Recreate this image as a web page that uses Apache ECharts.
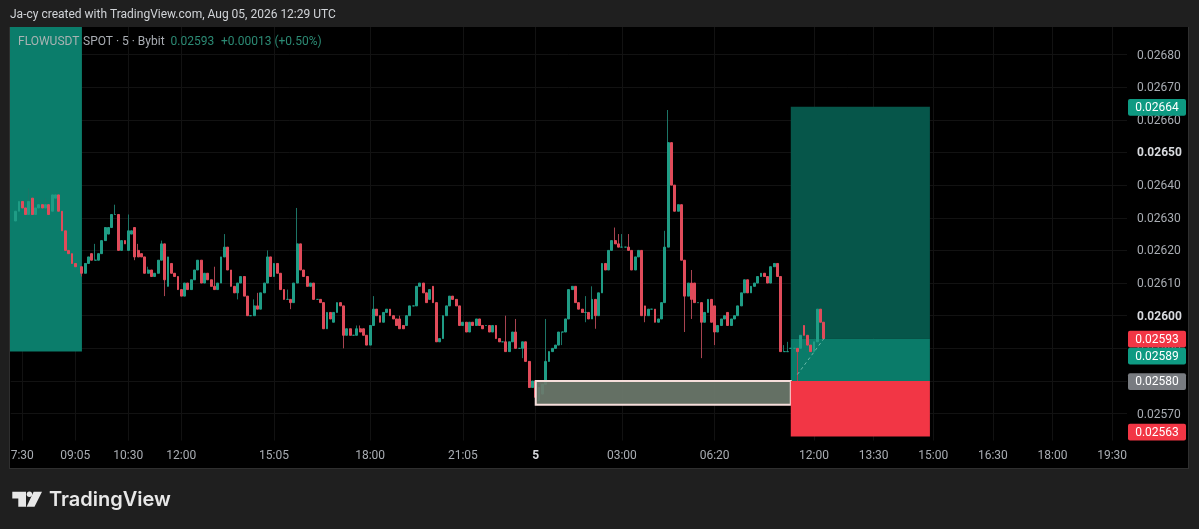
<!DOCTYPE html>
<html><head><meta charset="utf-8">
<style>html,body{margin:0;padding:0;background:#1f1f1f}#c{width:1199px;height:529px}</style>
<script src="https://cdn.jsdelivr.net/npm/echarts@6/dist/echarts.min.js"></script>
</head><body><div id="c"></div>
<script>
const opens=[null,
0.02629,0.02632,0.02635,0.02633,0.02631,0.02636,0.02631,0.02633,0.02634,0.02633,
0.02634,0.02632,0.02636,0.02637,0.02632,0.02626,0.02620,0.02619,0.02616,null,0.02615,
0.02613,0.02616,0.02619,0.02617,0.02617,0.02619,0.02623,0.02625,0.02627,0.02631,
0.02631,0.02620,0.02623,0.02620,0.02625,0.02627,0.02620,0.02619,0.02618,0.02613,
0.02614,0.02612,0.02613,0.02617,0.02622,0.02609,0.02616,0.02613,0.02612,0.02608,
0.02606,0.02610,0.02608,0.02611,0.02614,0.02617,0.02610,0.02613,0.02611,0.02609,
0.02608,0.02610,0.02618,0.02621,0.02614,0.02609,0.02607,0.02610,0.02612,0.02606,
0.02600,0.02600,0.02603,0.02602,0.02607,0.02610,0.02618,0.02612,0.02616,0.02613,
0.02608,0.02605,0.02605,0.02604,0.02610,0.02622,0.02614,0.02612,0.02609,0.02610,
0.02605,0.02605,0.02604,0.02596,0.02601,0.02598,0.02601,0.02604,0.02603,0.02594,
0.02596,0.02594,0.02594,0.02596,0.02596,0.02594,0.02591,0.02597,0.02602,0.02600,
0.02598,0.02601,0.02602,0.02600,0.02599,0.02599,0.02597,0.02597,0.02600,0.02603,
0.02603,0.02609,0.02610,0.02607,0.02605,0.02609,0.02604,0.02592,0.02593,0.02600,
0.02603,0.02606,0.02605,0.02603,0.02597,0.02598,0.02595,0.02598,0.02597,0.02599,
0.02597,0.02597,0.02597,0.02595,0.02597,0.02593,0.02592,0.02592,0.02589,0.02592,
0.02595,0.02590,0.02590,0.02592,0.02586,0.02578,0.02580,0.02574,0.02576,0.02579,
0.02586,0.02589,0.02590,0.02591,0.02595,0.02595,0.02599,0.02608,0.02609,0.02604,
0.02602,0.02601,0.02601,0.02599,0.02605,0.02600,0.02607,0.02616,0.02614,0.02620,
0.02623,0.02622,0.02621,0.02621,0.02621,0.02620,0.02614,0.02618,0.02620,0.02603,
0.02600,0.02602,0.02602,0.02598,0.02599,0.02604,0.02621,0.02653,0.02640,0.02632,
0.02634,0.02617,0.02606,0.02610,0.02610,0.02604,0.02604,0.02598,0.02601,0.02605,
0.02603,0.02595,0.02597,0.02599,0.02601,0.02597,0.02599,0.02600,0.02603,0.02607,
0.02611,0.02607,0.02609,0.02610,0.02612,0.02613,0.02612,0.02610,0.02615,0.02616,
0.02612,0.02589,0.02589,0.02590,0.02590,0.02590,0.02590,0.02597,0.02594,0.02591,
0.02589,0.02592,0.02602,0.02598];
const closes=[null,
0.02632,0.02635,0.02633,0.02631,0.02635,0.02631,0.02633,0.02634,0.02633,0.02634,
0.02631,0.02637,0.02637,0.02632,0.02626,0.02620,0.02619,0.02616,0.02615,null,0.02613,
0.02616,0.02618,0.02617,0.02617,0.02619,0.02623,0.02627,0.02627,0.02631,0.02631,
0.02620,0.02623,0.02622,0.02626,0.02626,0.02618,0.02618,0.02618,0.02613,0.02614,
0.02612,0.02613,0.02617,0.02622,0.02611,0.02618,0.02613,0.02612,0.02608,0.02606,
0.02610,0.02608,0.02611,0.02614,0.02617,0.02610,0.02613,0.02611,0.02609,0.02608,
0.02610,0.02618,0.02621,0.02614,0.02609,0.02607,0.02610,0.02612,0.02606,0.02600,
0.02600,0.02603,0.02602,0.02607,0.02610,0.02618,0.02612,0.02616,0.02613,0.02608,
0.02605,0.02605,0.02604,0.02610,0.02622,0.02614,0.02612,0.02609,0.02610,0.02605,
0.02605,0.02604,0.02596,0.02601,0.02599,0.02601,0.02604,0.02603,0.02594,0.02596,
0.02594,0.02594,0.02596,0.02595,0.02594,0.02591,0.02597,0.02602,0.02600,0.02598,
0.02601,0.02602,0.02600,0.02599,0.02597,0.02596,0.02596,0.02600,0.02603,0.02603,
0.02609,0.02610,0.02607,0.02604,0.02608,0.02604,0.02592,0.02593,0.02600,0.02603,
0.02606,0.02605,0.02603,0.02597,0.02598,0.02595,0.02598,0.02597,0.02599,0.02597,
0.02596,0.02597,0.02595,0.02597,0.02593,0.02592,0.02592,0.02589,0.02592,0.02595,
0.02590,0.02590,0.02592,0.02586,0.02578,0.02580,0.02575,0.02578,0.02579,0.02586,
0.02589,0.02590,0.02591,0.02595,0.02595,0.02599,0.02608,0.02609,0.02604,0.02602,
0.02601,0.02601,0.02599,0.02605,0.02600,0.02607,0.02616,0.02614,0.02620,0.02623,
0.02622,0.02621,0.02621,0.02621,0.02620,0.02614,0.02618,0.02620,0.02600,0.02600,
0.02602,0.02602,0.02598,0.02599,0.02604,0.02621,0.02653,0.02640,0.02632,0.02634,
0.02617,0.02606,0.02610,0.02605,0.02604,0.02604,0.02598,0.02601,0.02605,0.02598,
0.02595,0.02597,0.02599,0.02600,0.02597,0.02599,0.02600,0.02603,0.02607,0.02611,
0.02607,0.02609,0.02610,0.02612,0.02613,0.02612,0.02610,0.02615,0.02616,0.02612,
0.02589,0.02589,0.02589,0.02590,0.02590,0.02589,0.02594,0.02594,0.02591,0.02589,
0.02592,0.02602,0.02598,0.02593];
const lows=[null,
0.02629,0.02632,0.02633,0.02631,0.02631,0.02631,0.02631,0.02633,0.02633,0.02633,
0.02631,0.02632,0.02636,0.02632,0.02626,0.02620,0.02619,0.02616,0.02615,null,0.02612,
0.02613,0.02616,0.02617,0.02617,0.02617,0.02619,0.02623,0.02625,0.02627,0.02631,
0.02620,0.02620,0.02622,0.02620,0.02625,0.02617,0.02618,0.02618,0.02613,0.02613,
0.02612,0.02612,0.02613,0.02617,0.02606,0.02609,0.02613,0.02612,0.02608,0.02606,
0.02606,0.02608,0.02608,0.02611,0.02614,0.02610,0.02610,0.02611,0.02609,0.02608,
0.02608,0.02610,0.02618,0.02614,0.02609,0.02607,0.02605,0.02610,0.02606,0.02600,
0.02600,0.02600,0.02602,0.02602,0.02607,0.02610,0.02612,0.02612,0.02613,0.02608,
0.02605,0.02605,0.02602,0.02604,0.02610,0.02614,0.02612,0.02609,0.02609,0.02605,
0.02605,0.02604,0.02596,0.02596,0.02599,0.02598,0.02601,0.02603,0.02590,0.02594,
0.02594,0.02594,0.02594,0.02595,0.02594,0.02591,0.02591,0.02597,0.02600,0.02598,
0.02598,0.02601,0.02600,0.02599,0.02597,0.02596,0.02596,0.02597,0.02600,0.02603,
0.02603,0.02609,0.02607,0.02604,0.02605,0.02604,0.02592,0.02592,0.02593,0.02600,
0.02603,0.02605,0.02603,0.02597,0.02597,0.02595,0.02595,0.02597,0.02597,0.02597,
0.02596,0.02597,0.02595,0.02595,0.02593,0.02592,0.02592,0.02589,0.02589,0.02592,
0.02590,0.02590,0.02587,0.02586,0.02578,0.02578,0.02575,0.02574,0.02576,0.02579,
0.02586,0.02589,0.02590,0.02591,0.02591,0.02595,0.02599,0.02608,0.02604,0.02602,
0.02601,0.02598,0.02599,0.02599,0.02596,0.02600,0.02607,0.02614,0.02614,0.02620,
0.02622,0.02621,0.02621,0.02621,0.02620,0.02614,0.02614,0.02618,0.02600,0.02598,
0.02600,0.02602,0.02598,0.02598,0.02599,0.02604,0.02621,0.02640,0.02632,0.02632,
0.02617,0.02595,0.02606,0.02599,0.02604,0.02604,0.02587,0.02598,0.02601,0.02598,
0.02591,0.02595,0.02597,0.02599,0.02597,0.02597,0.02599,0.02600,0.02603,0.02607,
0.02607,0.02607,0.02609,0.02610,0.02612,0.02612,0.02610,0.02610,0.02615,0.02612,
0.02589,0.02589,0.02589,0.02590,0.02590,0.02580,0.02590,0.02594,0.02591,0.02589,
0.02589,0.02592,0.02598,0.02593];
const highs=[null,
0.02632,0.02635,0.02635,0.02633,0.02639,0.02636,0.02633,0.02634,0.02634,0.02636,
0.02634,0.02637,0.02637,0.02637,0.02632,0.02626,0.02620,0.02619,0.02616,null,0.02615,
0.02616,0.02618,0.02619,0.02622,0.02619,0.02623,0.02627,0.02627,0.02631,0.02634,
0.02631,0.02623,0.02623,0.02631,0.02626,0.02627,0.02622,0.02619,0.02618,0.02615,
0.02614,0.02613,0.02617,0.02623,0.02622,0.02618,0.02616,0.02613,0.02612,0.02608,
0.02610,0.02610,0.02611,0.02614,0.02617,0.02617,0.02613,0.02613,0.02611,0.02615,
0.02610,0.02618,0.02625,0.02621,0.02614,0.02609,0.02610,0.02612,0.02612,0.02606,
0.02600,0.02605,0.02607,0.02607,0.02610,0.02620,0.02618,0.02616,0.02616,0.02613,
0.02608,0.02608,0.02605,0.02610,0.02633,0.02622,0.02614,0.02612,0.02610,0.02610,
0.02605,0.02605,0.02604,0.02601,0.02601,0.02601,0.02604,0.02604,0.02603,0.02596,
0.02596,0.02594,0.02597,0.02597,0.02596,0.02594,0.02597,0.02606,0.02602,0.02600,
0.02601,0.02602,0.02602,0.02600,0.02599,0.02600,0.02597,0.02600,0.02603,0.02603,
0.02609,0.02610,0.02610,0.02607,0.02608,0.02609,0.02604,0.02593,0.02600,0.02603,
0.02606,0.02606,0.02605,0.02603,0.02598,0.02598,0.02598,0.02598,0.02599,0.02599,
0.02597,0.02597,0.02597,0.02597,0.02597,0.02593,0.02592,0.02600,0.02592,0.02595,
0.02599,0.02590,0.02592,0.02592,0.02586,0.02580,0.02580,0.02578,0.02579,0.02599,
0.02589,0.02590,0.02591,0.02595,0.02595,0.02599,0.02608,0.02609,0.02609,0.02604,
0.02602,0.02606,0.02601,0.02609,0.02605,0.02607,0.02616,0.02616,0.02620,0.02623,
0.02627,0.02625,0.02625,0.02621,0.02625,0.02620,0.02618,0.02620,0.02620,0.02603,
0.02602,0.02602,0.02602,0.02599,0.02604,0.02626,0.02663,0.02653,0.02640,0.02634,
0.02634,0.02617,0.02610,0.02614,0.02610,0.02604,0.02604,0.02601,0.02605,0.02605,
0.02603,0.02597,0.02599,0.02600,0.02601,0.02599,0.02600,0.02603,0.02607,0.02611,
0.02611,0.02609,0.02610,0.02612,0.02613,0.02613,0.02612,0.02615,0.02616,0.02616,
0.02612,0.02591,0.02592,0.02590,0.02590,0.02590,0.02594,0.02597,0.02594,0.02591,
0.02592,0.02602,0.02602,0.02598];

const barCount=337;
const timeLabels=['7:30','09:05','10:30','12:00','15:05','18:00','21:05','5','03:00','06:20','12:00','13:30','15:00','16:30','18:00','19:30'];
const timeLabelBars=[3,19,35,51,79,108,136,158,184,212,242,260,278,296,314,332];
const boldPriceLabels=['0.02650','0.02600'];

const pillPrices=[0.02664,0.02593,0.02589,0.02580,0.02563];
const pillColors=['#0e9a82','#f23645','#0e9a82','#787b80','#f23645'];
const lastPrice=0.02593;

// zones: start bar, end bar, top price, bottom price
const zonesBehind=[[-1,21,0.0269,0.02589],[235,277,0.02664,0.02593],[235,277,0.02593,0.02580]];
const zonesBehindColors=['#0b7d6b','#06564a','#0a7b69'];
const stopZone=[[235,277,0.02580,0.02563]];
const boxZone=[[158,235,0.02580,0.025727]];
const pathLine=[[237,0.02582],[245,0.02593]];

const UP='#1f9c85',DOWN='#e04b5a',UP_WICK='#1c7466',DOWN_WICK='#a84350',FONT='Roboto, sans-serif';
const cats=Array.from({length:barCount},(_,i)=>{const k=timeLabelBars.indexOf(i);return k<0?'':timeLabels[k];});

function rectItem(fill,stroke,lw,op){
  return (params,api)=>{
    const p1=api.coord([api.value(0),api.value(2)]),p2=api.coord([api.value(1),api.value(3)]);
    const f=Array.isArray(fill)?fill[params.dataIndex]:fill;
    return {type:'rect',shape:{x:p1[0],y:p1[1],width:p2[0]-p1[0],height:p2[1]-p1[1]},
      style:{fill:f,stroke:stroke||null,lineWidth:lw||0,opacity:op==null?1:op}};
  };
}
let pillBottom=0;
function pillItem(params,api){
  if(params.dataIndex===0) pillBottom=0;
  const price=api.value(1),h=16.6,c=api.coord([0,price]);
  let y=c[1]-h/2+0.6; if(y<pillBottom) y=pillBottom+0.4;
  if(y+h>440.4) y=440.4-h;
  pillBottom=y+h;
  const x=1128,w=58;
  return {type:'group',children:[
    {type:'rect',shape:{x,y,width:w,height:h,r:2},style:{fill:pillColors[params.dataIndex]}},
    {type:'text',style:{x:x+w/2,y:y+h/2+0.4,text:price.toFixed(5),fill:'#fff',font:'12px '+FONT,align:'center',verticalAlign:'middle'}}
  ]};
}
const chart=echarts.init(document.getElementById('c'),null,{renderer:'canvas'});
const T=(x,y,text,fill,font)=>({type:'text',x,y,z:60,style:{text,fill,font:font||'12px '+FONT,textVerticalAlign:'middle',verticalAlign:'middle'}});
chart.setOption({
  animation:false,backgroundColor:'#1f1f1f',
  grid:{left:10.7,width:1116.3,top:21.85,height:424.45,containLabel:false},
  xAxis:{type:'category',data:cats,boundaryGap:true,
    axisLine:{show:false},axisTick:{show:false},
    axisLabel:{interval:(i,v)=>v!=='',margin:3.5,color:'#a9adb3',fontFamily:FONT,fontSize:12,hideOverlap:false,
      formatter:v=>v==='5'?'{b|5}':v,rich:{b:{fontWeight:'bold',color:'#d8dade',fontFamily:FONT,fontSize:12}}},
    splitLine:{show:true,interval:(i,v)=>v!=='',alignWithLabel:true,lineStyle:{color:'#121212',width:1}}},
  yAxis:{type:'value',position:'right',min:0.0256,max:0.0269,interval:0.0001,scale:true,
    axisLine:{show:false},axisTick:{show:false},
    axisLabel:{showMinLabel:false,showMaxLabel:false,margin:10,padding:[2,0,0,0],color:'#a9adb3',fontFamily:FONT,fontSize:12,
      formatter:v=>{const s=v.toFixed(5);return boldPriceLabels.includes(s)?'{b|'+s+'}':s;},
      rich:{b:{fontWeight:'bold',color:'#d8dade',fontFamily:FONT,fontSize:12}}},
    splitLine:{show:true,showMinLine:false,showMaxLine:false,lineStyle:{color:'#121212',width:1}}},
  series:[
    {type:'custom',z:1,clip:true,silent:true,data:zonesBehind,encode:{x:[0,1],y:[2,3]},renderItem:rectItem(zonesBehindColors)},
    {type:'candlestick',z:2,barWidth:1,silent:true,
      data:opens.map((o,i)=>o==null?'-':[o,closes[i],lows[i],highs[i]]),
      itemStyle:{color:UP_WICK,color0:DOWN_WICK,borderColor:UP_WICK,borderColor0:DOWN_WICK,borderColorDoji:UP_WICK,borderWidth:1},
      markLine:{silent:true,symbol:'none',label:{show:false},animation:false,
        lineStyle:{type:[1,3],color:'#d98a84',width:1,opacity:0.75},data:[{yAxis:lastPrice}]}},
    {type:'candlestick',z:2,barWidth:2.4,silent:true,
      data:opens.map((o,i)=>o==null?'-':[o,closes[i],Math.min(o,closes[i]),Math.max(o,closes[i])]),
      itemStyle:{color:UP,color0:DOWN,borderColor:UP,borderColor0:DOWN,borderColorDoji:UP,borderWidth:1}},
    {type:'custom',z:3,clip:true,silent:true,data:boxZone,encode:{x:[0,1],y:[2,3]},renderItem:rectItem('rgba(108,122,108,0.92)','#f6dedb',2)},
    {type:'custom',z:3.5,clip:true,silent:true,data:stopZone,encode:{x:[0,1],y:[2,3]},renderItem:rectItem('#f23645')},
    {type:'line',z:4,silent:true,symbol:'none',data:pathLine,lineStyle:{color:'#7fc7b6',width:1,type:[3,3],opacity:0.8}},
    {type:'custom',z:5,clip:false,silent:true,coordinateSystem:'cartesian2d',
      data:pillPrices.map((p,i)=>[0,p]),encode:{x:0,y:1},renderItem:pillItem}
  ],
  graphic:{elements:[
    {type:'rect',z:-1,shape:{x:10,y:27,width:1178,height:441},style:{fill:'#000'}},
    {type:'rect',z:50,shape:{x:0,y:0,width:1199,height:27},style:{fill:'#1f1f1f'}},
    {type:'rect',z:50,shape:{x:10,y:440.4,width:1117,height:6.5},style:{fill:'#000'}},
    {type:'rect',z:50,shape:{x:10,y:468,width:1179,height:1},style:{fill:'#2f2f2f'}},
    {type:'rect',z:50,shape:{x:1188,y:27,width:1,height:442},style:{fill:'#2f2f2f'}},
    {type:'rect',z:50,shape:{x:9,y:27,width:1,height:442},style:{fill:'#2f2f2f'}},
    T(10,15,'Ja-cy created with TradingView.com, Aug 05, 2026 12:29 UTC','#d1d4d8'),
    T(18,42,'FLOWUSDT','#a9b3b3'),
    T(83,42,'SPOT · 5 · Bybit','#a9adb3'),
    T(170.5,42,'0.02593','#2c8a74'),
    T(221,42,'+0.00013 (+0.50%)','#2c8a74'),
    {type:'polygon',z:60,shape:{points:[[12.3,491.7],[26,491.7],[26,506.7],[18.3,506.7],[18.3,498.5],[12.3,498.5]]},style:{fill:'#e8e8e8'}},
    {type:'circle',z:60,shape:{cx:29.4,cy:494.2,r:2.7},style:{fill:'#e8e8e8'}},
    {type:'polygon',z:60,shape:{points:[[33.6,491.7],[42,491.7],[34.5,506.7],[26.6,506.7]]},style:{fill:'#e8e8e8'}},
    T(49,499.5,'TradingView','#e8e8e8','600 20px Inter, Roboto, sans-serif')
  ]}
});
</script></body></html>
